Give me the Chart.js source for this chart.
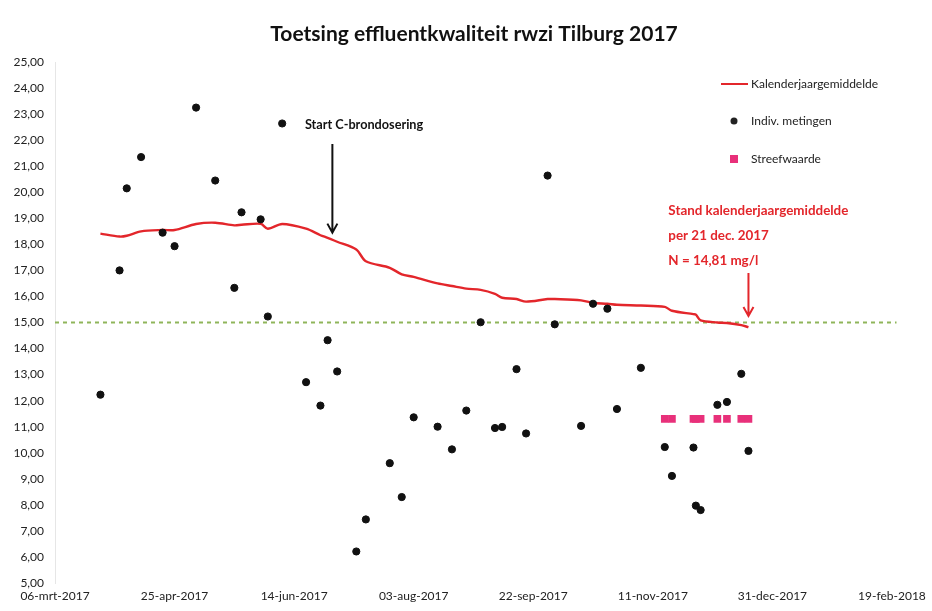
<!DOCTYPE html>
<html>
<head>
<meta charset="utf-8">
<title>Toetsing effluentkwaliteit rwzi Tilburg 2017</title>
<script src="https://cdn.jsdelivr.net/npm/chart.js@4.4.1/dist/chart.umd.min.js"></script>
<style>
  html, body { margin: 0; padding: 0; background: #fff; }
  #wrap { width: 932px; height: 611px; }
</style>
</head>
<body>
<div id="wrap"><canvas id="myChart" width="932" height="611"></canvas></div>
<script>
// 1. Data
const meetDatums = [
  "2017-03-25", "2017-04-02", "2017-04-05", "2017-04-11", "2017-04-20", "2017-04-25",
  "2017-05-04", "2017-05-12", "2017-05-20", "2017-05-23", "2017-05-31", "2017-06-03",
  "2017-06-09", "2017-06-19", "2017-06-25", "2017-06-28", "2017-07-02", "2017-07-10",
  "2017-07-14", "2017-07-24", "2017-07-29", "2017-08-03", "2017-08-13", "2017-08-19",
  "2017-08-25", "2017-08-31", "2017-09-06", "2017-09-09", "2017-09-15", "2017-09-19",
  "2017-09-28", "2017-10-01", "2017-10-12", "2017-10-17", "2017-10-23", "2017-10-27",
  "2017-11-06", "2017-11-16", "2017-11-19", "2017-11-28", "2017-11-29", "2017-12-01",
  "2017-12-08", "2017-12-12", "2017-12-18", "2017-12-21"
];
const meetWaarden = [
  12.23, 17.00, 20.15, 21.35, 18.45, 17.93,
  23.25, 20.45, 16.33, 19.23, 18.96, 15.23,
  22.64, 12.71, 11.81, 14.32, 13.12, 6.21,
  7.44, 9.60, 8.30, 11.36, 11.00, 10.13,
  11.62, 15.01, 10.95, 10.99, 13.21, 10.74,
  20.64, 14.93, 11.03, 15.72, 15.53, 11.68,
  13.26, 10.22, 9.11, 10.20, 7.97, 7.80,
  11.84, 11.95, 13.03, 10.07
];
// kalenderjaargemiddelde op elke meetdatum
const gemiddelde = [
  18.41, 18.30, 18.33, 18.50, 18.55, 18.55,
  18.78, 18.83, 18.73, 18.75, 18.79, 18.60,
  18.78, 18.60, 18.35, 18.25, 18.10, 17.80,
  17.35, 17.10, 16.85, 16.75, 16.50, 16.40,
  16.30, 16.25, 16.10, 15.95, 15.90, 15.80,
  15.90, 15.90, 15.85, 15.75, 15.72, 15.68,
  15.65, 15.60, 15.45, 15.32, 15.30, 15.08,
  15.00, 14.98, 14.90, 14.82
];
const streefDatums = [
  "2017-11-16", "2017-11-19", "2017-11-28", "2017-11-29", "2017-12-01",
  "2017-12-08", "2017-12-12", "2017-12-18", "2017-12-21"
];
const streefWaarde = 11.3;
const normWaarde = 15;
const tickDatums = [
  "2017-03-06", "2017-04-25", "2017-06-14", "2017-08-03",
  "2017-09-22", "2017-11-11", "2017-12-31", "2018-02-19"
];
const tickLabels = [
  "06-mrt-2017", "25-apr-2017", "14-jun-2017", "03-aug-2017",
  "22-sep-2017", "11-nov-2017", "31-dec-2017", "19-feb-2018"
];

// 2. Helpers
const startDag = Date.parse(tickDatums[0]);
const dag = s => (Date.parse(s) - startDag) / 86400000;
const tickDagen = tickDatums.map(dag);
const xMax = tickDagen[tickDagen.length - 1] + 2;

const ROOD = "#e3262b";
const ROZE = "#e8307a";
const GROEN = "#8fb55a";
const FONT = "Lato, 'Open Sans', sans-serif";

Chart.defaults.font.family = FONT;
Chart.defaults.color = "#222";

// 3. Arrows, labels, title and legend
function pijl(ctx, x, y1, y2, kleur) {
  ctx.save();
  ctx.strokeStyle = kleur;
  ctx.lineWidth = 2;
  ctx.beginPath();
  ctx.moveTo(x, y1);
  ctx.lineTo(x, y2);
  ctx.moveTo(x - 5, y2 - 9);
  ctx.lineTo(x, y2);
  ctx.lineTo(x + 5, y2 - 9);
  ctx.stroke();
  ctx.restore();
}

const extras = {
  id: "extras",
  afterDatasetsDraw(chart) {
    const { ctx, scales: { x, y } } = chart;
    ctx.save();

    // titel
    ctx.fillStyle = "#111";
    ctx.font = "bold 21px " + FONT;
    ctx.textAlign = "center";
    ctx.textBaseline = "middle";
    ctx.fillText("Toetsing effluentkwaliteit rwzi Tilburg 2017", 474, 34);

    // Start C-brondosering
    ctx.textAlign = "left";
    ctx.font = "bold 12.7px " + FONT;
    ctx.fillText("Start C-brondosering", x.getPixelForValue(104.5), y.getPixelForValue(22.58));
    pijl(ctx, x.getPixelForValue(116), y.getPixelForValue(21.85), y.getPixelForValue(18.45), "#111");

    // stand kalenderjaargemiddelde
    ctx.fillStyle = ROOD;
    ctx.font = "bold 13.4px " + FONT;
    const tx = x.getPixelForValue(256.5);
    ctx.fillText("Stand kalenderjaargemiddelde", tx, y.getPixelForValue(19.28));
    ctx.fillText("per 21 dec. 2017", tx, y.getPixelForValue(18.32));
    ctx.fillText("N = 14,81 mg/l", tx, y.getPixelForValue(17.36));
    pijl(ctx, x.getPixelForValue(290), y.getPixelForValue(16.9), y.getPixelForValue(15.25), ROOD);

    // legenda
    ctx.font = "12px " + FONT;
    ctx.fillStyle = "#222";
    ctx.strokeStyle = ROOD;
    ctx.lineWidth = 2;
    ctx.beginPath();
    ctx.moveTo(721, 84);
    ctx.lineTo(748, 84);
    ctx.stroke();
    ctx.fillText("Kalenderjaargemiddelde", 751, 84);
    ctx.beginPath();
    ctx.arc(734, 121, 3.5, 0, Math.PI * 2);
    ctx.fill();
    ctx.fillText("Indiv. metingen", 751, 121);
    ctx.fillStyle = ROZE;
    ctx.fillRect(730, 155, 8, 8);
    ctx.fillStyle = "#222";
    ctx.fillText("Streefwaarde", 751, 159);

    ctx.restore();
  }
};

// 4. Chart
const ctx = document.getElementById("myChart").getContext("2d");
const chart = new Chart(ctx, {
  data: {
    datasets: [
      {
        type: "scatter",
        label: "Indiv. metingen",
        data: meetDatums.map((d, i) => ({ x: dag(d), y: meetWaarden[i] })),
        backgroundColor: "#111",
        borderColor: "#111",
        pointRadius: 3.6,
        pointHoverRadius: 3.6,
        order: 1
      },
      {
        type: "scatter",
        label: "Streefwaarde",
        data: streefDatums.map(d => ({ x: dag(d), y: streefWaarde })),
        pointStyle: "rect",
        backgroundColor: ROZE,
        borderColor: ROZE,
        borderWidth: 0,
        pointRadius: 5.4,
        order: 2
      },
      {
        type: "line",
        label: "Kalenderjaargemiddelde",
        data: meetDatums.map((d, i) => ({ x: dag(d), y: gemiddelde[i] })),
        borderColor: ROOD,
        borderWidth: 2.4,
        pointRadius: 0,
        tension: 0.3,
        fill: false,
        order: 3
      },
      {
        type: "line",
        label: "norm",
        data: [{ x: 0, y: normWaarde }, { x: xMax, y: normWaarde }],
        borderColor: GROEN,
        borderWidth: 2,
        borderDash: [4, 4],
        pointRadius: 0,
        fill: false,
        order: 4
      }
    ]
  },
  options: {
    responsive: false,
    animation: false,
    layout: { padding: { top: 62, right: 34, left: 0, bottom: 0 } },
    plugins: {
      legend: { display: false },
      title: { display: false },
      tooltip: { enabled: false }
    },
    scales: {
      x: {
        type: "linear",
        min: 0,
        max: xMax,
        grid: { display: false, drawTicks: false },
        border: { display: false },
        afterBuildTicks: scale => {
          scale.ticks = tickDagen.map(v => ({ value: v }));
        },
        afterFit: scale => { scale.height = 28; },
        ticks: {
          autoSkip: false,
          maxRotation: 0,
          padding: 6,
          font: { size: 12 },
          color: "#222",
          callback: (v, i) => tickLabels[i]
        }
      },
      y: {
        min: 5,
        max: 25,
        grid: { display: false, drawTicks: false },
        border: { display: true, color: "#e6e6e6" },
        afterFit: scale => { scale.width = 55; },
        ticks: {
          stepSize: 1,
          padding: 11,
          font: { size: 12 },
          color: "#222",
          callback: v => v.toFixed(2).replace(".", ",")
        }
      }
    }
  },
  plugins: [extras]
});
</script>
</body>
</html>
